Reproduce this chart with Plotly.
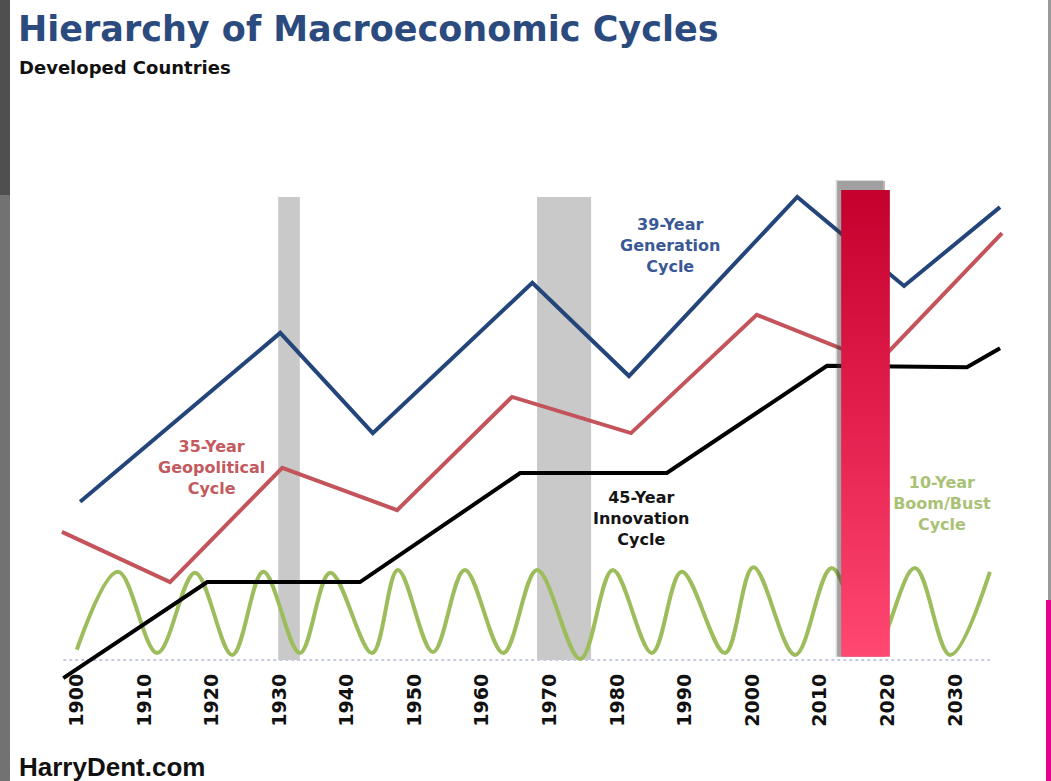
import plotly.graph_objects as go

# canvas / plot area (pixels)
W, H = 1051, 781
M_L, M_R, M_T, M_B = 43, 28, 180, 91
PLOT_W = W - M_L - M_R
PLOT_H = H - M_T - M_B

x_range = [1895, 2040]
y_range = [-6.47, 103.45]

# 39-year generation cycle
gen_years = [1900.5, 1930.1, 1943.8, 1967.4, 1981.7, 2006.6, 2022.4, 2036.6]
gen_values = [34.1, 70.5, 48.9, 81.3, 61.2, 99.8, 80.6, 97.6]

# 35-year geopolitical cycle
geo_years = [1897.8, 1913.8, 1930.4, 1947.4, 1964.4, 1982.0, 2000.6, 2018.5, 2036.9]
geo_values = [27.6, 16.8, 41.4, 32.3, 56.7, 48.9, 74.4, 64.0, 92.0]

# 45-year innovation cycle
innov_years = [1898.0, 1919.3, 1941.9, 1965.6, 1987.3, 2011.0, 2031.7, 2036.6]
innov_values = [-3.9, 16.8, 16.8, 40.3, 40.3, 63.4, 63.1, 67.2]

# 10-year boom/bust cycle (peaks and troughs)
boom_years = [1900.0, 1906.1, 1911.9, 1917.5, 1923.0, 1927.6, 1933.0, 1937.5,
              1943.7, 1947.5, 1952.7, 1957.4, 1963.1, 1968.1, 1974.5, 1979.3,
              1985.1, 1989.5, 1995.9, 2000.1, 2006.3, 2011.7, 2017.7, 2024.0,
              2029.2, 2035.1]
boom_values = [2.2, 19.0, 1.5, 18.8, 1.1, 19.0, 1.5, 18.8,
               1.5, 19.4, 1.7, 19.4, 1.5, 19.4, 0.2, 19.4,
               1.5, 19.0, 1.5, 20.0, 1.1, 19.8, 1.3, 19.8,
               1.1, 19.0]

# shaded periods
gray_starts = [1929.8, 1968.1]
gray_ends = [1933.0, 1976.1]
gray_top = 99.8
red_start, red_end = 2013.1, 2020.3
red_bottom, red_top = 0.7, 101.3

tick_years = [1900, 1910, 1920, 1930, 1940, 1950, 1960, 1970, 1980, 1990, 2000, 2010, 2020, 2030]
tick_labels = [str(y) for y in tick_years]

px_per_year = PLOT_W / (x_range[1] - x_range[0])
px_per_unit = PLOT_H / (y_range[1] - y_range[0])


def px_x(px):
    return (px - M_L) / PLOT_W


def px_y(py):
    return (H - M_B - py) / PLOT_H


BOLD = "DejaVu Sans"

fig = go.Figure()

# cycle lines
fig.add_trace(go.Scatter(x=boom_years, y=boom_values, mode='lines', line=dict(color='#9DBD5C', width=4, shape='spline'),
                         name='10-Year Boom/Bust Cycle'))
fig.add_trace(go.Scatter(x=innov_years, y=innov_values, mode='lines', line=dict(color='#000000', width=4),
                         name='45-Year Innovation Cycle'))
fig.add_trace(go.Scatter(x=geo_years, y=geo_values, mode='lines', line=dict(color='#C4545B', width=4),
                         name='35-Year Geopolitical Cycle'))
fig.add_trace(go.Scatter(x=gen_years, y=gen_values, mode='lines', line=dict(color='#23457A', width=4),
                         name='39-Year Generation Cycle'))

# green label sits under the red bar
fig.add_trace(go.Scatter(x=[2028.0], y=[33.4], mode='text', text=['<b>10-Year<br>Boom/Bust<br>Cycle</b>'],
                         textposition='middle center',
                         textfont=dict(family=BOLD, size=16, color='#A9C275')))

# shadow + gradient bar for the current period
dx = 4 / px_per_year
dy = 9 / px_per_unit
for off, alpha in [(1.4, 0.18), (1.0, 0.35)]:
    fig.add_trace(go.Scatter(x=[red_start - dx * off, red_end - dx * off * 1.2, red_end - dx * off * 1.2,
                                red_start - dx * off, red_start - dx * off],
                             y=[red_bottom, red_bottom, red_top + dy * off, red_top + dy * off, red_bottom],
                             mode='lines', line=dict(width=0), fill='toself',
                             fillcolor='rgba(55,55,55,%s)' % alpha))
fig.add_trace(go.Scatter(x=[red_start, red_end, red_end, red_start, red_start],
                         y=[red_bottom, red_bottom, red_top, red_top, red_bottom],
                         mode='lines', line=dict(width=0), fill='toself',
                         fillgradient=dict(type='vertical',
                                           colorscale=[[0, '#FF4872'], [0.5, '#E4204F'], [1, '#C4002D']])))

# gray bars
for x0, x1 in zip(gray_starts, gray_ends):
    fig.add_shape(type='rect', x0=x0, x1=x1, y0=0, y1=gray_top, xref='x', yref='y',
                  fillcolor='#C9C9C9', line=dict(width=0), layer='below')

# dotted baseline
fig.add_shape(type='line', x0=min(innov_years), x1=max(boom_years), y0=0, y1=0, xref='x', yref='y',
              line=dict(color='#C5CAE0', width=2, dash='dot'), layer='below')

# frame strips at the picture edges
fig.add_shape(type='rect', xref='paper', yref='paper', x0=px_x(0), x1=px_x(10), y0=px_y(195), y1=px_y(0),
              fillcolor='#4F4F4F', line=dict(width=0))
fig.add_shape(type='rect', xref='paper', yref='paper', x0=px_x(0), x1=px_x(10), y0=px_y(781), y1=px_y(195),
              fillcolor='#727272', line=dict(width=0))
fig.add_shape(type='rect', xref='paper', yref='paper', x0=px_x(1048), x1=px_x(1051), y0=px_y(600), y1=px_y(0),
              fillcolor='#9A9A9A', line=dict(width=0))
fig.add_shape(type='rect', xref='paper', yref='paper', x0=px_x(1046), x1=px_x(1051), y0=px_y(781), y1=px_y(600),
              fillcolor='#E4008C', line=dict(width=0))

# cycle labels
fig.add_annotation(x=1987.8, y=89.4, text='<b>39-Year<br>Generation<br>Cycle</b>', showarrow=False,
                   font=dict(family=BOLD, size=16, color='#3A5896'))
fig.add_annotation(x=1919.9, y=41.4, text='<b>35-Year<br>Geopolitical<br>Cycle</b>', showarrow=False,
                   font=dict(family=BOLD, size=16, color='#C45A5E'))
fig.add_annotation(x=1983.5, y=30.6, text='<b>45-Year<br>Innovation<br>Cycle</b>', showarrow=False,
                   font=dict(family=BOLD, size=16, color='#151515'))

# titles and source
fig.add_annotation(xref='paper', yref='paper', x=px_x(16), y=px_y(29), xanchor='left', yanchor='middle',
                   text='<b>Hierarchy of Macroeconomic Cycles</b>', showarrow=False,
                   font=dict(family=BOLD, size=35, color='#2B4A7D'))
fig.add_annotation(xref='paper', yref='paper', x=px_x(17), y=px_y(68), xanchor='left', yanchor='middle',
                   text='<b>Developed Countries</b>', showarrow=False,
                   font=dict(family=BOLD, size=18, color='#111111'))
fig.add_annotation(xref='paper', yref='paper', x=px_x(17), y=px_y(767), xanchor='left', yanchor='middle',
                   text='<b>HarryDent.com</b>', showarrow=False,
                   font=dict(family='Liberation Sans', size=26, color='#111111'))

fig.update_layout(width=W, height=H,
                  margin=dict(l=M_L, r=M_R, t=M_T, b=M_B),
                  paper_bgcolor='white', plot_bgcolor='white',
                  showlegend=False, hovermode=False,
                  xaxis=dict(range=x_range, showgrid=False, zeroline=False, showline=False, ticks='',
                             tickvals=tick_years, ticktext=tick_labels, tickangle=-90,
                             tickfont=dict(family=BOLD, size=19, color='#111111', weight='bold'),
                             anchor='free', position=px_y(669)),
                  yaxis=dict(range=y_range, visible=False))

# drop the page's default body margin so the figure sits at the window's corner
fig.write_html("out.html", config={'displayModeBar': False},
               post_script="document.body.style.margin='0';")
